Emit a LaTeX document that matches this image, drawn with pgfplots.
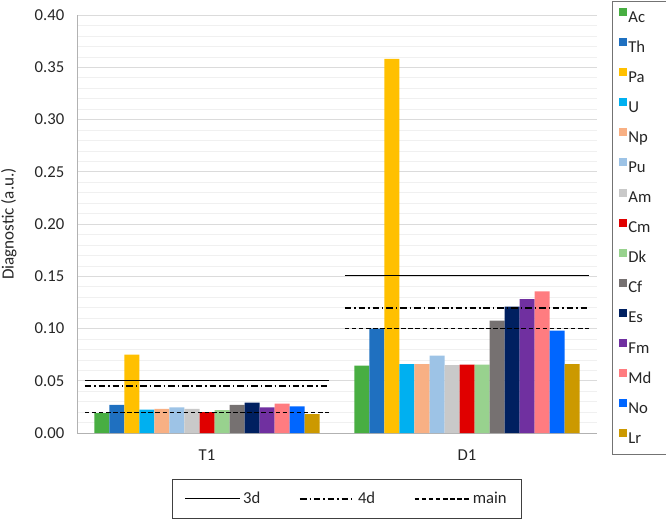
\documentclass[border=0pt]{standalone}
\usepackage{pgfplots}
\pgfplotsset{compat=1.18}
\usepackage{pgfplotstable}
\usepackage{fontspec}
\setmainfont{Carlito}

\definecolor{cAc}{RGB}{72,174,66}
\definecolor{cTh}{RGB}{31,112,192}
\definecolor{cPa}{RGB}{255,192,0}
\definecolor{cU}{RGB}{0,176,240}
\definecolor{cNp}{RGB}{248,176,132}
\definecolor{cPu}{RGB}{157,195,230}
\definecolor{cAm}{RGB}{201,201,201}
\definecolor{cCm}{RGB}{224,0,0}
\definecolor{cDk}{RGB}{152,210,142}
\definecolor{cCf}{RGB}{118,113,113}
\definecolor{cEs}{RGB}{0,32,96}
\definecolor{cFm}{RGB}{112,48,160}
\definecolor{cMd}{RGB}{255,124,128}
\definecolor{cNo}{RGB}{0,102,255}
\definecolor{cLr}{RGB}{204,153,0}

\pgfplotstableread{
x  Ac     Th    Pa    U      Np    Pu     Am    Cm     Dk     Cf     Es    Fm     Md     No     Lr
0  0.019  0.027 0.075 0.0223 0.023 0.0246 0.023 0.020  0.022  0.027  0.029 0.0245 0.028  0.0255 0.018
1  0.0645 0.100 0.358 0.066  0.066 0.074  0.065 0.0655 0.0655 0.1075 0.121 0.128  0.1355 0.098  0.066
}\bars

\pgfplotsset{
  common/.style={
    at={(57.75pt,63.75pt)}, anchor=south west,
    width=390pt, height=313.5pt, scale only axis,
    xmin=-0.5, xmax=1.5, ymin=0, ymax=0.40,
  },
}

\begin{document}
\begin{tikzpicture}
\useasboundingbox (0,0) rectangle (499.5pt,388.5pt);
\begin{axis}[common,
  ybar=0pt, bar width=0.0577,
  axis x line*=bottom, axis y line*=left,
  axis line style={draw=black!30,-},
  xtick={0,1}, xticklabels={T1,D1},
  ytick={0,0.05,...,0.401},
  minor y tick num=4,
  major tick length=0pt, minor tick length=0pt,
  ymajorgrids, yminorgrids,
  major grid style={draw=black!14},
  minor grid style={draw=black!6},
  /pgf/number format/assume math mode=true,
  /pgf/number format/fixed, /pgf/number format/fixed zerofill, /pgf/number format/precision=2,
  yticklabel style={font=\fontsize{12.5}{14}\selectfont, text=black!85, xshift=-6pt},
  xticklabel style={font=\fontsize{12.5}{14}\selectfont, text=black!85, yshift=-9pt},
  ylabel={Diagnostic (a.u.)},
  ylabel style={at={(axis description cs:-0.131,0.5)}, anchor=center, font=\fontsize{12.8}{14}\selectfont, text=black!85},
  legend image code/.code={\fill[#1] (0pt,1.6pt) rectangle (6pt,7.6pt);},
  legend style={at={(1.029,1.033)}, anchor=north west, draw=black!55,
    font=\fontsize{12.5}{14}\selectfont, text=black!85,
    inner xsep=5pt, inner ysep=5pt, row sep=8.45pt,
    nodes={inner sep=1pt, text height=8.5pt, text depth=2.5pt}},
  legend cell align=left,
]
\addplot[fill=cAc, draw=none] table[x=x,y=Ac] {\bars};
\addplot[fill=cTh, draw=none] table[x=x,y=Th] {\bars};
\addplot[fill=cPa, draw=none] table[x=x,y=Pa] {\bars};
\addplot[fill=cU, draw=none] table[x=x,y=U] {\bars};
\addplot[fill=cNp, draw=none] table[x=x,y=Np] {\bars};
\addplot[fill=cPu, draw=none] table[x=x,y=Pu] {\bars};
\addplot[fill=cAm, draw=none] table[x=x,y=Am] {\bars};
\addplot[fill=cCm, draw=none] table[x=x,y=Cm] {\bars};
\addplot[fill=cDk, draw=none] table[x=x,y=Dk] {\bars};
\addplot[fill=cCf, draw=none] table[x=x,y=Cf] {\bars};
\addplot[fill=cEs, draw=none] table[x=x,y=Es] {\bars};
\addplot[fill=cFm, draw=none] table[x=x,y=Fm] {\bars};
\addplot[fill=cMd, draw=none] table[x=x,y=Md] {\bars};
\addplot[fill=cNo, draw=none] table[x=x,y=No] {\bars};
\addplot[fill=cLr, draw=none] table[x=x,y=Lr] {\bars};
\legend{\makebox[24pt][l]{Ac},Th,Pa,U,Np,Pu,Am,Cm,Dk,Cf,Es,Fm,Md,No,Lr}
\end{axis}
\begin{axis}[common, hide axis,
  legend columns=3,
  legend image code/.code={\draw[#1] (0pt,0pt) -- (41pt,0pt);},
  legend style={at={(0.183,-0.110)}, anchor=north west, draw=black!75,
    font=\fontsize{12.5}{14}\selectfont, text=black!85,
    inner xsep=9pt, inner ysep=7.5pt,
    /tikz/every even column/.append style={column sep=27pt}},
]
\addplot[black, line width=1.1pt] coordinates {(-0.47,0.05) (0.47,0.05)};
\addplot[black, line width=1.2pt, dash pattern=on 5pt off 2.2pt on 1pt off 2.2pt] coordinates {(-0.47,0.045) (0.47,0.045)};
\addplot[black, line width=1.2pt, dash pattern=on 3.4pt off 1.9pt] coordinates {(-0.47,0.0195) (0.47,0.0195)};
\addplot[black, line width=1.1pt, forget plot] coordinates {(0.53,0.1505) (1.47,0.1505)};
\addplot[black, line width=1.2pt, dash pattern=on 5pt off 2.2pt on 1pt off 2.2pt, forget plot] coordinates {(0.53,0.1195) (1.47,0.1195)};
\addplot[black, line width=1.2pt, dash pattern=on 3.4pt off 1.9pt, forget plot] coordinates {(0.53,0.100) (1.47,0.100)};
\legend{3d,4d,main}
\end{axis}
\end{tikzpicture}
\end{document}
